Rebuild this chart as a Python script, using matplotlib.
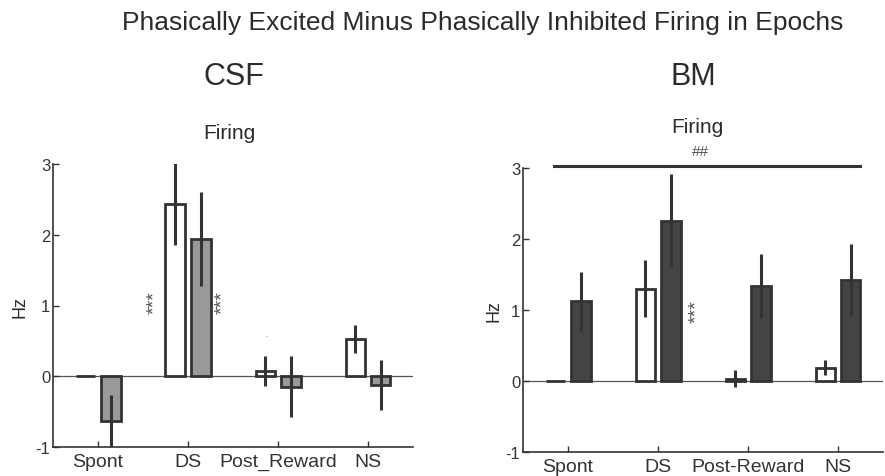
import numpy as np
import matplotlib
matplotlib.use('Agg')
import matplotlib.pyplot as plt

plt.rcParams['font.family'] = ['Liberation Sans', 'DejaVu Sans']
plt.rcParams['axes.unicode_minus'] = False
plt.rcParams['text.color'] = '#2b2b2b'
plt.rcParams['axes.labelcolor'] = '#2b2b2b'
plt.rcParams['xtick.color'] = '#333333'
plt.rcParams['ytick.color'] = '#333333'

# epochs (tick labels differ slightly between panels)
epochs_csf = ['Spont', 'DS', 'Post_Reward', 'NS']
epochs_bm = ['Spont', 'DS', 'Post-Reward', 'NS']
y_ticks = [-1, 0, 1, 2, 3]

# CSF panel: white bars and grey bars, mean and error (Hz)
csf_white = [0.0, 2.44, 0.07, 0.53]
csf_white_err = [0.0, 0.59, 0.21, 0.20]
csf_grey = [-0.63, 1.94, -0.15, -0.12]
csf_grey_err = [0.37, 0.67, 0.43, 0.35]

# BM panel: white bars and dark bars
bm_white = [0.0, 1.30, 0.03, 0.19]
bm_white_err = [0.0, 0.40, 0.12, 0.11]
bm_dark = [1.12, 2.26, 1.34, 1.42]
bm_dark_err = [0.41, 0.66, 0.45, 0.51]

edge = '#333333'
offset = 0.14
width = 0.22


def draw_panel(ax, labels, white, white_err, filled, filled_err, fill_color):
    x = np.arange(1, len(labels) + 1)
    ax.axhline(0, color='#555555', lw=0.9, zorder=0.5)
    ax.bar(x - offset, white, width, color='white', edgecolor=edge, lw=2, zorder=2)
    ax.bar(x + offset, filled, width, color=fill_color, edgecolor=edge, lw=2, zorder=2)
    ax.errorbar(x - offset, white, yerr=white_err, fmt='none', ecolor=edge,
                elinewidth=2.2, capsize=0, zorder=3)
    ax.errorbar(x + offset, filled, yerr=filled_err, fmt='none', ecolor=edge,
                elinewidth=2.2, capsize=0, zorder=3)
    ax.set_xlim(0.5, 4.5)
    ax.set_ylim(-1, 3)
    ax.set_xticks(x, labels, fontsize=14)
    ax.set_yticks(y_ticks)
    ax.tick_params(axis='y', labelsize=12, direction='in', length=4, width=1, pad=2)
    ax.tick_params(axis='x', direction='in', length=4, width=1, pad=4)
    ax.spines['top'].set_visible(False)
    ax.spines['right'].set_visible(False)
    for s in ['left', 'bottom']:
        ax.spines[s].set_color(edge)
        ax.spines[s].set_linewidth(1.2)
    ax.set_ylabel('Hz', fontsize=13)


fig = plt.figure(figsize=(8.85, 4.77), dpi=100)
ax1 = fig.add_axes([53 / 885, 29 / 477, 360 / 885, 283 / 477])
ax2 = fig.add_axes([523 / 885, 24 / 477, 360 / 885, 284 / 477])

draw_panel(ax1, epochs_csf, csf_white, csf_white_err, csf_grey, csf_grey_err, '#999999')
draw_panel(ax2, epochs_bm, bm_white, bm_white_err, bm_dark, bm_dark_err, '#444444')
ax1.yaxis.set_label_coords(-0.069, 0.5)
ax2.yaxis.set_label_coords(-0.056, 0.5)

# significance marks
star_kw = dict(rotation=90, ha='center', va='center', fontsize=14, color='#555555')
ax1.text(1.633, 1.06, '***', **star_kw)
ax1.text(2.389, 1.06, '***', **star_kw)
ax1.text(2.867, 0.54, '.', ha='center', va='bottom', fontsize=5, color='#555555')
ax2.text(2.433, 0.99, '***', **star_kw)
ax2.plot([0.844, 4.244], [3.03, 3.03], color=edge, lw=2.2, clip_on=False)
ax2.text(2.467, 3.18, '##', ha='center', va='baseline', fontsize=11, color='#555555')

# titles
fig.text(483 / 885, (477 - 30) / 477, 'Phasically Excited Minus Phasically Inhibited Firing in Epochs',
         ha='center', va='baseline', fontsize=19)
fig.text(234 / 885, (477 - 85) / 477, 'CSF', ha='center', va='baseline', fontsize=22)
fig.text(693 / 885, (477 - 85) / 477, 'BM', ha='center', va='baseline', fontsize=22)
fig.text(229 / 885, (477 - 139) / 477, 'Firing', ha='center', va='baseline', fontsize=15)
fig.text(697 / 885, (477 - 133) / 477, 'Firing', ha='center', va='baseline', fontsize=15)

plt.savefig('out.png', dpi=100)
plt.close()
